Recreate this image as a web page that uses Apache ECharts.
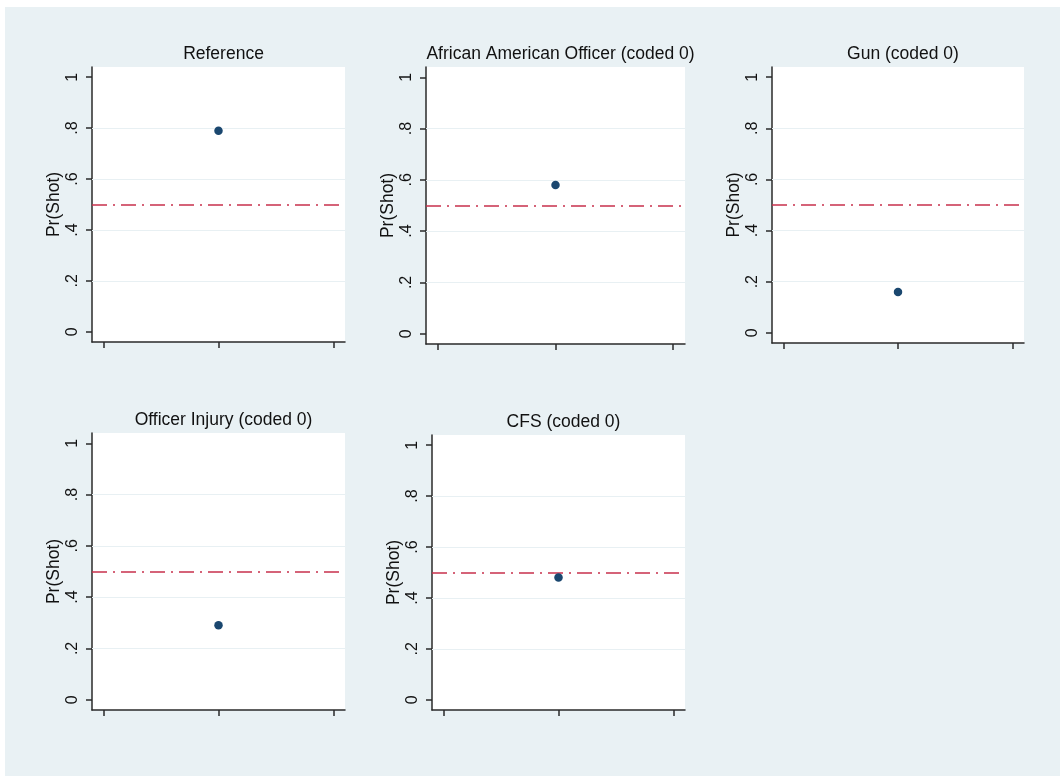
<!DOCTYPE html>
<html>
<head>
<meta charset="utf-8">
<script src="https://cdn.jsdelivr.net/npm/echarts@6.0.0/dist/echarts.min.js"></script>
<style>
html,body{margin:0;padding:0;background:#fff;}
#c{width:1061px;height:777px;}
</style>
</head>
<body>
<div id="c"></div>
<script>
// ---- data ----
var panelTitles = ['Reference', 'African American Officer (coded 0)', 'Gun (coded 0)', 'Officer Injury (coded 0)', 'CFS (coded 0)'];
var prShot = [0.79, 0.58, 0.16, 0.29, 0.48];
var pointX = 1;
var threshold = 0.5;
var yTickValues = [0, 0.2, 0.4, 0.6, 0.8, 1];
var yTickLabels = ['0', '.2', '.4', '.6', '.8', '1'];
var gridLineValues = [0.2, 0.4, 0.6, 0.8];
var xTickValues = [0, 1, 2];
var yAxisName = 'Pr(Shot)';

// ---- layout ----
var boxes = [
  {left: 92, top: 67, width: 253, height: 275},
  {left: 426, top: 67, width: 259, height: 277},
  {left: 772, top: 67, width: 252, height: 276},
  {left: 92, top: 433, width: 253, height: 277},
  {left: 432, top: 435, width: 253, height: 275}
];
var FONT = 'Arial, "Liberation Sans", sans-serif';

var grids = [], xAxes = [], yAxes = [], series = [], titles = [];
boxes.forEach(function (b, i) {
  grids.push({left: b.left, top: b.top, width: b.width, height: b.height,
    show: true, backgroundColor: '#ffffff', borderWidth: 0, outerBoundsMode: 'none'});
  xAxes.push({gridIndex: i, type: 'value', min: -0.1, max: 2.1,
    axisLine: {show: true, onZero: false, lineStyle: {color: '#2a2a2a', width: 1.5}},
    axisTick: {show: true, customValues: xTickValues, length: 6, inside: false, lineStyle: {color: '#2a2a2a', width: 1.5}},
    axisLabel: {show: false},
    splitLine: {show: false}});
  yAxes.push({gridIndex: i, type: 'value', min: -0.04, max: 1.04,
    name: yAxisName, nameLocation: 'middle', nameRotate: 90, nameGap: 29,
    nameTextStyle: {fontFamily: FONT, fontSize: 17.5, color: '#111'},
    axisLine: {show: true, onZero: false, lineStyle: {color: '#2a2a2a', width: 1.5}},
    axisTick: {show: true, customValues: yTickValues, length: 6, inside: false, lineStyle: {color: '#2a2a2a', width: 1.5}},
    axisLabel: {show: true, customValues: yTickValues, rotate: 90, margin: 11,
      fontFamily: FONT, fontSize: 16, color: '#111',
      formatter: function (v) {
        for (var k = 0; k < yTickValues.length; k++) {
          if (Math.abs(yTickValues[k] - v) < 1e-9) return yTickLabels[k];
        }
        return '';
      }},
    splitLine: {show: false}});
  var mlData = gridLineValues.map(function (g) {
    return {yAxis: g, lineStyle: {color: '#e8f0f3', width: 1.2, type: 'solid'}};
  });
  mlData.push({yAxis: threshold, lineStyle: {color: '#c8304c', width: 1.7, type: [15, 6, 2, 6]}});
  series.push({type: 'scatter', xAxisIndex: i, yAxisIndex: i,
    data: [[pointX, prShot[i]]], symbol: 'circle', symbolSize: 8.5, z: 5,
    itemStyle: {color: '#1a476f', opacity: 1},
    markLine: {silent: true, symbol: ['none', 'none'], label: {show: false},
      animation: false, z: 2, data: mlData}
  });
  titles.push({text: panelTitles[i], left: b.left + b.width / 2, top: b.top - 27,
    textAlign: 'center',
    textStyle: {fontFamily: FONT, fontSize: 17.5, fontWeight: 'normal', color: '#111'}});
});

var chart = echarts.init(document.getElementById('c'), null, {renderer: 'canvas'});
chart.setOption({
  backgroundColor: '#ffffff',
  animation: false,
  graphic: [{type: 'rect', z: -10, silent: true,
    shape: {x: 5, y: 7, width: 1055, height: 769},
    style: {fill: '#e9f1f4'}}],
  title: titles,
  grid: grids,
  xAxis: xAxes,
  yAxis: yAxes,
  series: series
});
</script>
</body>
</html>
